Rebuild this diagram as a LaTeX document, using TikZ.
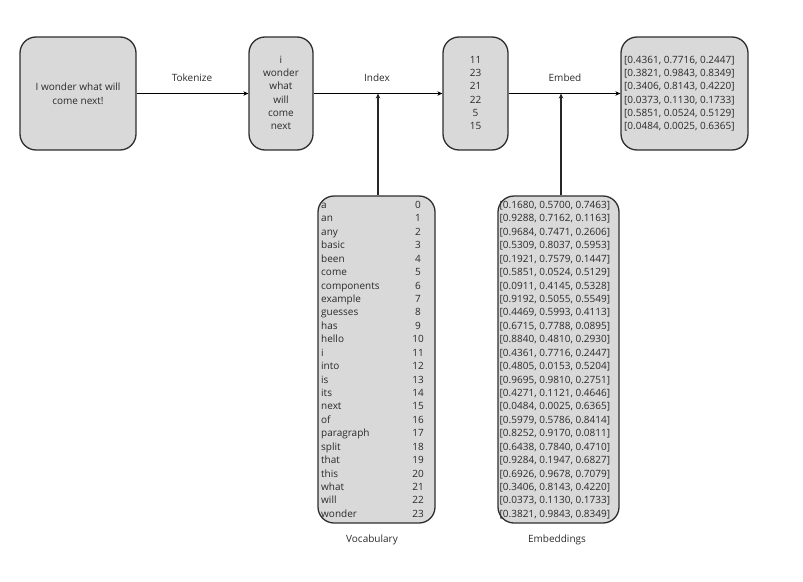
\documentclass[tikz,border=0pt]{standalone}
\usepackage{fontspec}
\setmainfont{Open Sans}
\usetikzlibrary{arrows.meta}
\definecolor{boxfill}{HTML}{D9D9D9}
\definecolor{boxline}{HTML}{2E2E2E}
\definecolor{txt}{HTML}{2A2A2A}
\tikzset{
  box/.style={draw=boxline, line width=1.3pt, fill=boxfill, rounded corners=16pt, inner sep=0pt},
  lbl/.style={font=\fontsize{10}{12}\selectfont, text=txt, inner sep=0pt},
  row/.style={font=\fontsize{10}{12}\selectfont, text=txt, inner sep=0pt},
  conn/.style={draw=black, line width=1.1pt, -{Stealth[length=5pt,width=4.5pt]}},
  stem/.style={draw=black!85, line width=1.3pt, -{Stealth[length=5pt,width=4.5pt]}}
}
\begin{document}
\begin{tikzpicture}[x=1pt,y=-1pt]
\useasboundingbox (0,0) rectangle (803,581);
% main boxes
\node[box, minimum width=116pt, minimum height=113pt] (src) at (78,93.5) {};
\node[box, minimum width=64pt, minimum height=113pt] (tok) at (281,93.5) {};
\node[box, minimum width=65pt, minimum height=113pt] (idx) at (475.5,93.5) {};
\node[box, minimum width=127pt, minimum height=113pt] (emb) at (684.5,93.5) {};
\node[box, minimum width=117pt, minimum height=327pt] (vocab) at (376.5,359.5) {};
\node[box, minimum width=121pt, minimum height=327pt] (embs) at (558.5,359.5) {};
% source text
\node[row, anchor=base] (s1) at (78,90.5) {I wonder what will};
\node[row, anchor=base] (s2) at (78,104.5) {come next!};
% token rows
\foreach \t [count=\i from 0] in {i,wonder,what,will,come,next}
  \node[row, anchor=base] (t\i) at (281,63.5+13.2*\i) {\t};
\foreach \t [count=\i from 0] in {11,23,21,22,5,15}
  \node[row, anchor=base] (d\i) at (475.5,63.5+13.2*\i) {\t};
\foreach \t [count=\i from 0] in {{[0.4361, 0.7716, 0.2447]},{[0.3821, 0.9843, 0.8349]},{[0.3406, 0.8143, 0.4220]},{[0.0373, 0.1130, 0.1733]},{[0.5851, 0.0524, 0.5129]},{[0.0484, 0.0025, 0.6365]}}
  \node[row, anchor=base west] (o\i) at (624,63.5+13.2*\i) {\t};
% vocabulary
\foreach \w [count=\i from 0] in {a,an,any,basic,been,come,components,example,guesses,has,hello,i,into,is,its,next,of,paragraph,split,that,this,what,will,wonder}{
  \node[row, anchor=base west] (w\i) at (321,208.5+13.43*\i) {\w};
  \node[row, anchor=base] (n\i) at (418,208.5+13.43*\i) {\i};
}
% embeddings
\foreach \e [count=\i from 0] in {{[0.1680, 0.5700, 0.7463]},{[0.9288, 0.7162, 0.1163]},{[0.9684, 0.7471, 0.2606]},{[0.5309, 0.8037, 0.5953]},{[0.1921, 0.7579, 0.1447]},{[0.5851, 0.0524, 0.5129]},{[0.0911, 0.4145, 0.5328]},{[0.9192, 0.5055, 0.5549]},{[0.4469, 0.5993, 0.4113]},{[0.6715, 0.7788, 0.0895]},{[0.8840, 0.4810, 0.2930]},{[0.4361, 0.7716, 0.2447]},{[0.4805, 0.0153, 0.5204]},{[0.9695, 0.9810, 0.2751]},{[0.4271, 0.1121, 0.4646]},{[0.0484, 0.0025, 0.6365]},{[0.5979, 0.5786, 0.8414]},{[0.8252, 0.9170, 0.0811]},{[0.6438, 0.7840, 0.4710]},{[0.9284, 0.1947, 0.6827]},{[0.6926, 0.9678, 0.7079]},{[0.3406, 0.8143, 0.4220]},{[0.0373, 0.1130, 0.1733]},{[0.3821, 0.9843, 0.8349]}}
  \node[row, anchor=base west] (e\i) at (499.5,208.5+13.43*\i) {\e};
% labels
\node[lbl] (ltok) at (192,78) {Tokenize};
\node[lbl] (lidx) at (377,78) {Index};
\node[lbl] (lemb) at (565,78) {Embed};
\node[lbl] (lvoc) at (372,540) {Vocabulary};
\node[lbl] (lems) at (557,540) {Embeddings};
% connectors
\coordinate (vj) at (378,93.5);
\coordinate (ej) at (561,93.5);
\draw[conn] (src.east) -- (tok.west);
\draw[conn] (tok.east) -- (idx.west);
\draw[conn] (idx.east) -- (emb.west);
\draw[stem] (vocab.north -| vj) -- (vj);
\draw[stem] (embs.north -| ej) -- (ej);
\end{tikzpicture}
\end{document}
